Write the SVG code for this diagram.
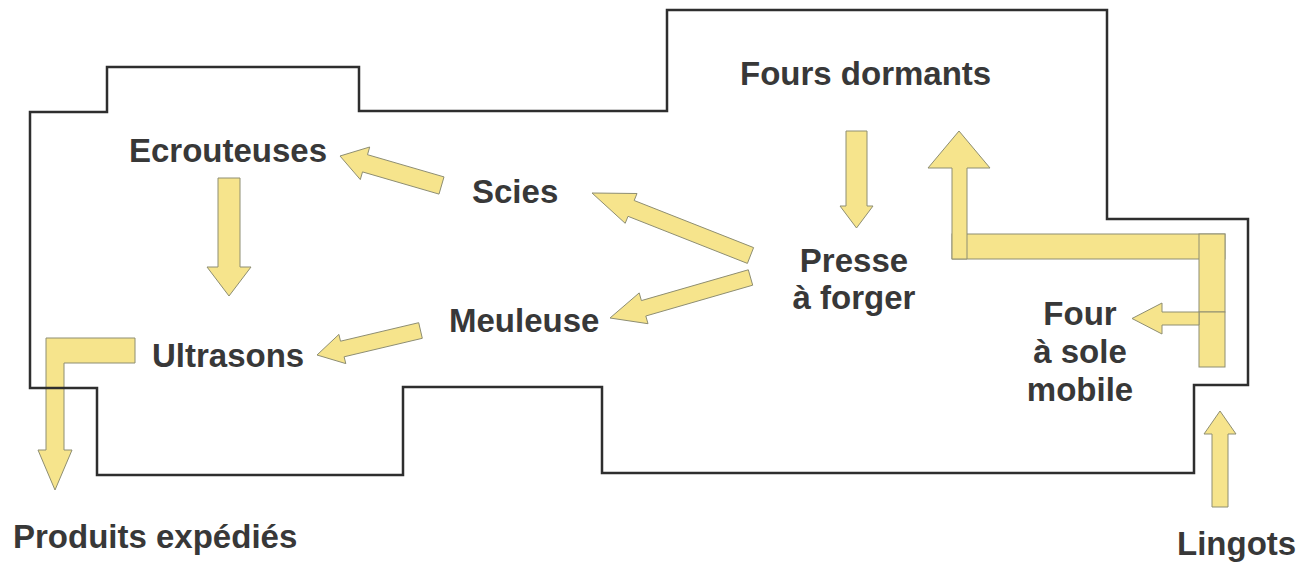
<svg xmlns="http://www.w3.org/2000/svg" width="1311" height="566" viewBox="0 0 1311 566">
<style>
.lbl{font-family:"Liberation Sans",Arial,sans-serif;font-weight:bold;font-size:33px;fill:#383838}
.mid{text-anchor:middle}
.arr{fill:#F6E48C;stroke:#8e8e72;stroke-width:1;stroke-linejoin:miter}
.wall{fill:none;stroke:#2e2e2e;stroke-width:2.5;stroke-linejoin:miter}
</style>
<rect width="1311" height="566" fill="#ffffff"/>
<g id="connectors">
<polygon class="arr" points="444.0,176.9 367.5,154.7 369.7,147.0 340,156 360.3,179.6 362.5,171.9 439.0,194.1"/>
<polygon class="arr" points="218,178 240,178 240,267 251,267 229,296 207,267 218,267"/>
<polygon class="arr" points="753.6,247.6 634.2,200.5 637.0,193.5 592,193 625.2,223.3 628.0,216.3 747.4,263.4"/>
<polygon class="arr" points="748.3,269.8 641.4,300.6 639.2,292.9 610,318 648.0,323.7 645.8,316.0 752.7,285.2"/>
<polygon class="arr" points="418.7,322.7 340.5,341.2 338.9,334.4 317,355 345.8,363.6 344.1,356.8 422.3,338.3"/>
<polygon class="arr" points="135,338 135,363 64,363 64,450 72,450 55,490 38,450 46,450 46,338"/>
<polygon class="arr" points="846,131 867,131 867,206 873,206 856.5,228 840,206 846,206"/>
<rect class="arr" x="952" y="234" width="273" height="25"/>
<polygon class="arr" points="952,259 952,168 928,168 959,131 990,168 967,168 967,259"/>
<rect class="arr" x="1199" y="234" width="26" height="78"/>
<rect class="arr" x="1199" y="312" width="26" height="55"/>
<polygon class="arr" points="1199,312 1162,312 1162,303 1132,318.5 1162,334 1162,325 1199,325"/>
<polygon class="arr" points="1212,507 1212,434 1204,434 1220,411 1236,434 1228,434 1228,507"/>
</g>
<g id="building">
<path class="wall" d="M30,112 H107 V67 H359 V111 H667 V10 H1107 V219 H1248 V385 H1194 V473 H602 V387 H403 V475 H97 V388 H30 Z"/>
</g>
<g id="fours-dormants"><text class="lbl" x="740" y="85">Fours dormants</text></g>
<g id="presse"><text class="lbl mid" x="854" y="272">Presse</text><text class="lbl mid" x="854" y="309">à forger</text></g>
<g id="scies"><text class="lbl" x="472" y="203">Scies</text></g>
<g id="ecrouteuses"><text class="lbl" x="129" y="162">Ecrouteuses</text></g>
<g id="meuleuse"><text class="lbl" x="449" y="332">Meuleuse</text></g>
<g id="ultrasons"><text class="lbl" x="152" y="367">Ultrasons</text></g>
<g id="four-sole"><text class="lbl mid" x="1080" y="325">Four</text><text class="lbl mid" x="1080" y="363">à sole</text><text class="lbl mid" x="1080" y="401">mobile</text></g>
<g id="produits"><text class="lbl" x="13" y="548">Produits expédiés</text></g>
<g id="lingots"><text class="lbl" x="1177" y="555">Lingots</text></g>
</svg>
